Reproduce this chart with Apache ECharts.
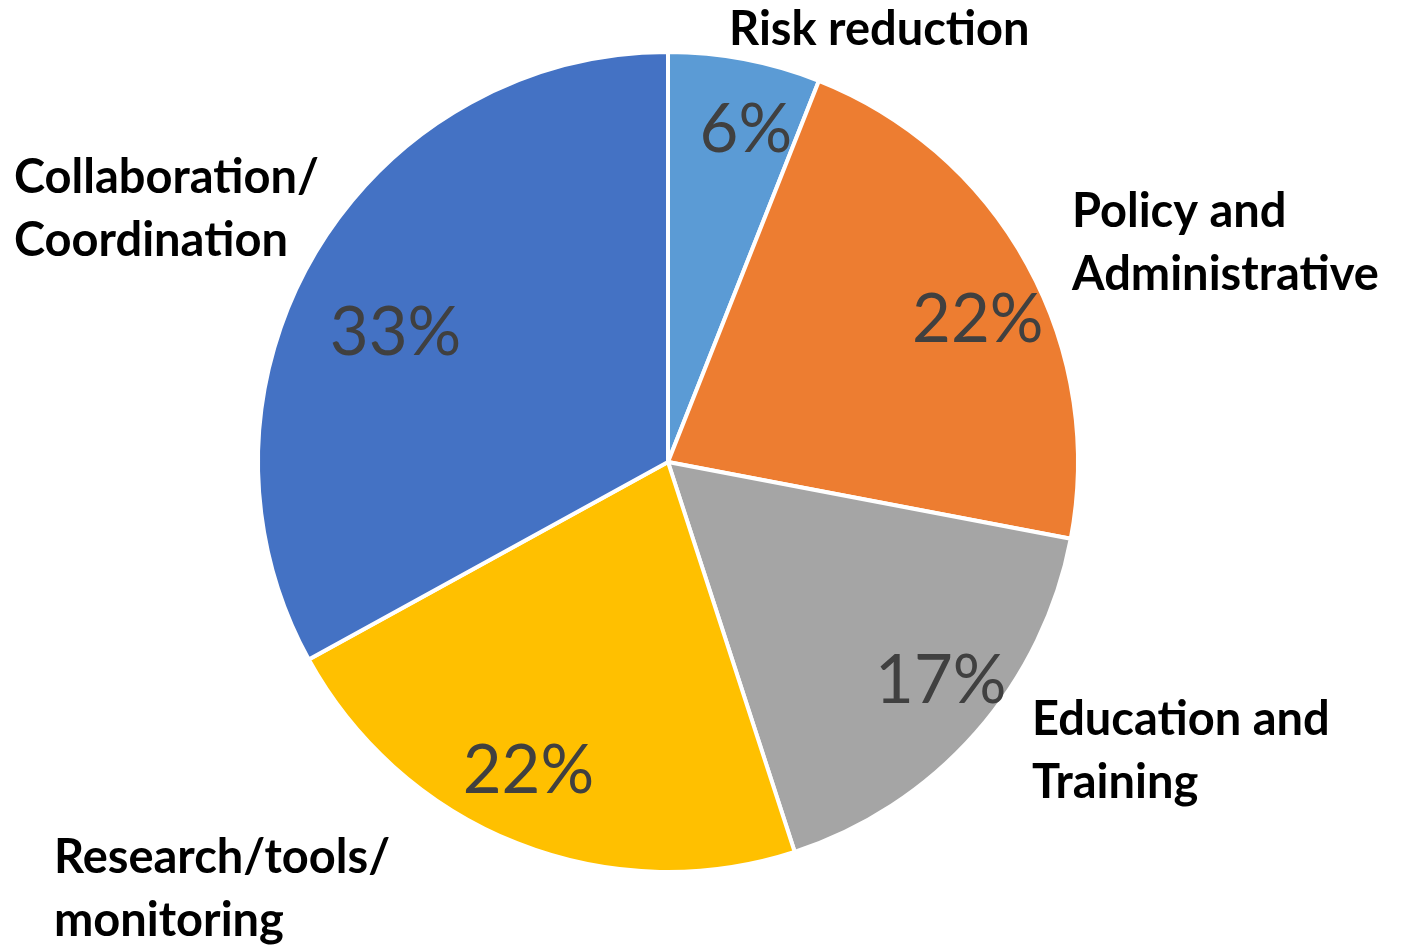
<!DOCTYPE html>
<html>
<head>
<meta charset="utf-8">
<script src="https://cdn.jsdelivr.net/npm/echarts@6/dist/echarts.min.js"></script>
<style>html,body{margin:0;padding:0;background:#fff;}#c{width:1403px;height:947px;}</style>
</head>
<body>
<div id="c"></div>
<script>
// Data
var categories = ['Risk reduction', 'Policy and\nAdministrative', 'Education and\nTraining', 'Research/tools/\nmonitoring', 'Collaboration/\nCoordination'];
var values = [6, 22, 17, 22, 33];
var colors = ['#5B9BD5', '#ED7D31', '#A5A5A5', '#FFC000', '#4472C4'];

// Layout (label placement)
var nameAnchors = [[729, 30], [1072, 243], [1032, 751], [54, 889], [14, 209]];
var pctOffsets = [[14, 3], [11, 23], [17, -6], [-14, -8], [21, 45]];

var chart = echarts.init(document.getElementById('c'));
var mainData = categories.map(function (n, i) {
  return { name: n, value: values[i], itemStyle: { color: colors[i] } };
});
var ringData = categories.map(function (n, i) {
  return { name: n, value: values[i] };
});
chart.setOption({
  animation: false,
  backgroundColor: '#ffffff',
  series: [
    {
      type: 'pie',
      center: [668, 462],
      radius: [0, 410],
      startAngle: 90,
      clockwise: true,
      avoidLabelOverlap: false,
      silent: true,
      itemStyle: { borderColor: '#ffffff', borderWidth: 4 },
      label: {
        show: true,
        position: 'outside',
        formatter: '{b}',
        fontFamily: 'Lato',
        fontWeight: 'bold',
        fontSize: 47,
        lineHeight: 63,
        color: '#000000'
      },
      labelLine: { show: false },
      labelLayout: function (p) {
        var a = nameAnchors[p.dataIndex];
        return { x: a[0], y: a[1], align: 'left', verticalAlign: 'middle' };
      },
      data: mainData
    },
    {
      type: 'pie',
      center: [668, 462],
      radius: [296, 380],
      startAngle: 90,
      clockwise: true,
      avoidLabelOverlap: false,
      silent: true,
      itemStyle: { color: 'transparent', borderWidth: 0 },
      label: {
        show: true,
        position: 'inside',
        formatter: '{c}%',
        fontFamily: 'Lato',
        fontSize: 67,
        color: '#404040'
      },
      labelLine: { show: false },
      labelLayout: function (p) {
        var o = pctOffsets[p.dataIndex];
        return { dx: o[0], dy: o[1] };
      },
      data: ringData
    }
  ]
});
</script>
</body>
</html>
